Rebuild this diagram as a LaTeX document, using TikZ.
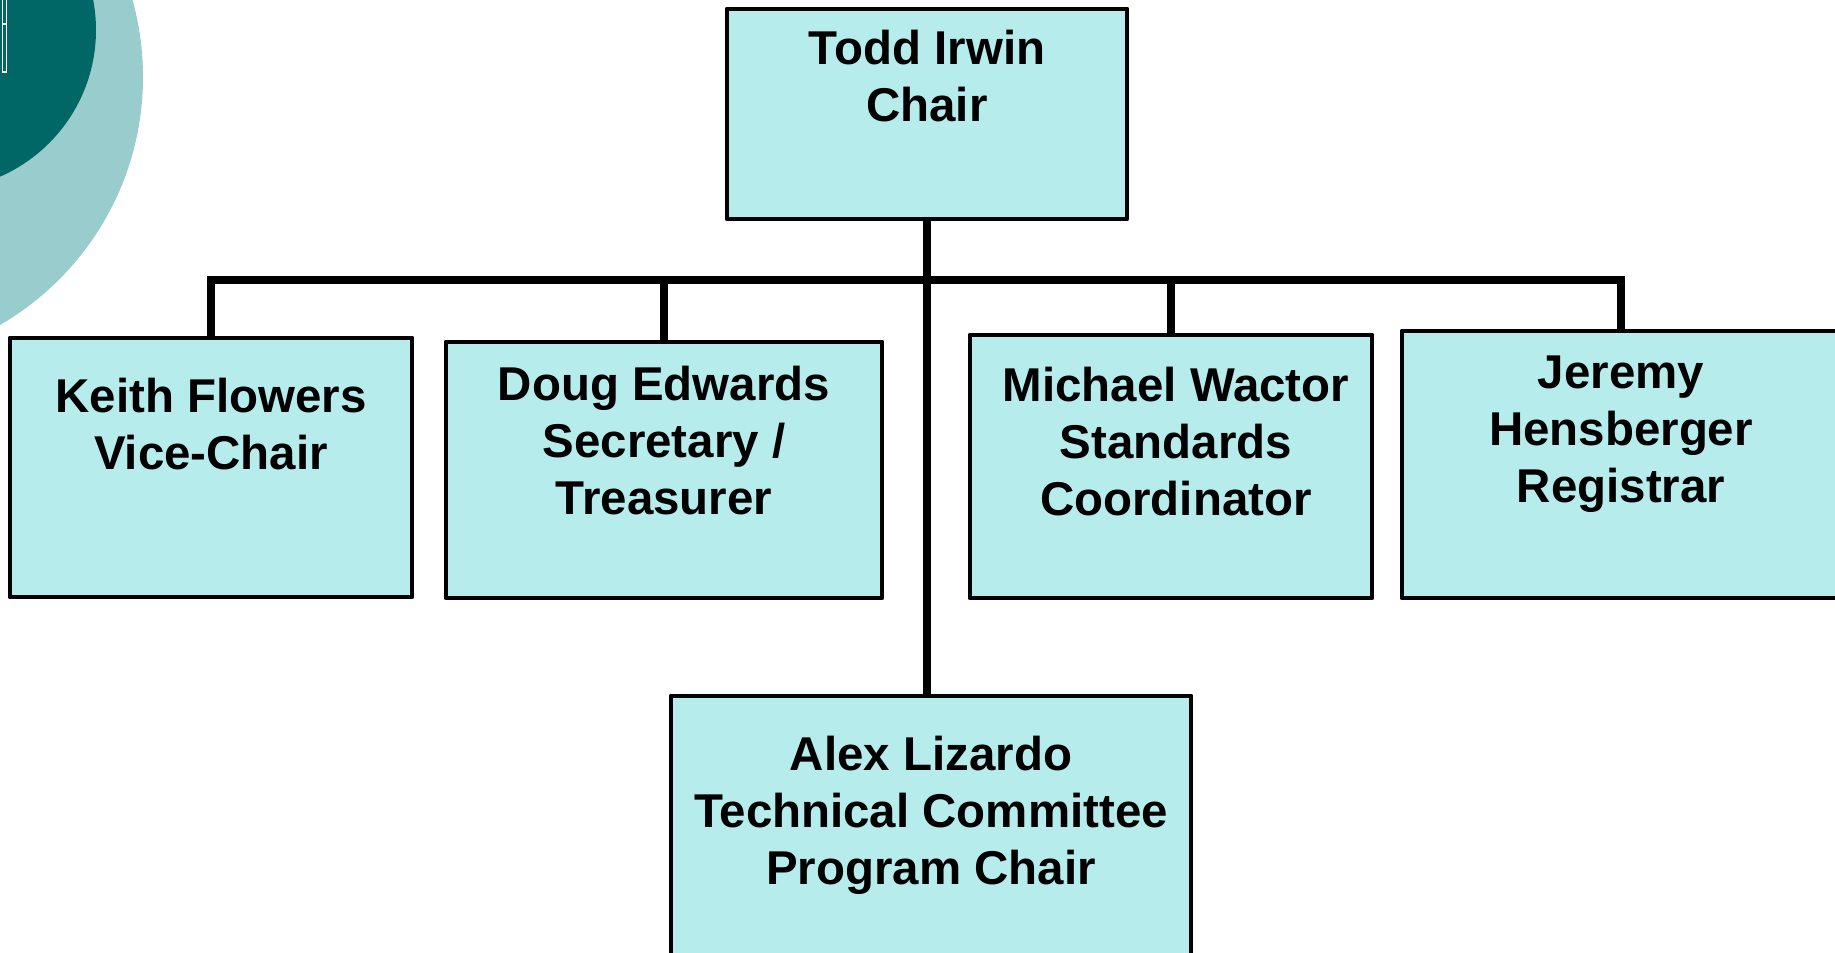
\documentclass[tikz,border=0pt]{standalone}
\usepackage{fontspec}
\setmainfont{Liberation Sans}
\usepackage{xcolor}
\usetikzlibrary{positioning,calc}
\definecolor{boxfill}{HTML}{B6ECEC}
\definecolor{tealdark}{HTML}{006666}
\definecolor{teallight}{HTML}{99CCCC}

\begin{document}
\begin{tikzpicture}[
    officer/.style={draw=black, fill=boxfill, line width=1.4pt, line join=round, inner sep=0pt},
    roletext/.style={anchor=north, align=center, inner sep=0pt, font=\fontsize{13.5}{16.2}\selectfont\bfseries},
    link/.style={line width=2.1pt}]
    \useasboundingbox (0,0) rectangle (18.35,9.53);

    % corner decoration
    \fill[teallight] (-1.435,8.76) circle (2.865);
    \fill[tealdark] (-0.64,9.23) circle (1.6);
    \draw[white, line width=0.5pt] (0.025,8.81) rectangle (0.065,9.6) (0.025,9.29) -- (0.065,9.29);

    \node[officer, minimum width=4.0cm, minimum height=2.1cm] (chair) at (9.27,8.39) {};
    \node[roletext, below=0.23cm of chair.north] (chairtxt) {Todd Irwin\\Chair};

    \node[officer, minimum width=4.02cm, minimum height=2.59cm] (keith) at (2.11,4.855) {};
    \node[roletext, below=0.42cm of keith.north] (keithtxt) {Keith Flowers\\Vice-Chair};

    \node[officer, minimum width=4.36cm, minimum height=2.56cm] (doug) at (6.64,4.83) {};
    \node[roletext, below=0.26cm of doug.north] (dougtxt) {Doug Edwards\\Secretary /\\Treasurer};

    \node[officer, minimum width=4.02cm, minimum height=2.63cm] (michael) at (11.71,4.865) {};
    \node[roletext, below=0.34cm of michael.north, xshift=0.05cm] (michaeltxt) {Michael Wactor\\Standards\\Coordinator};

    \node[officer, minimum width=4.38cm, minimum height=2.67cm] (jeremy) at (16.21,4.885) {};
    \node[roletext, below=0.265cm of jeremy.north] (jeremytxt) {Jeremy\\Hensberger\\Registrar};

    \node[officer, minimum width=5.2cm, minimum height=2.7cm] (alex) at (9.31,1.22) {};
    \node[roletext, below=0.42cm of alex.north] (alextxt) {Alex Lizardo\\Technical Committee\\Program Chair};

    % connectors
    \coordinate (bus) at (9.27,6.73);
    \draw[link] (chair.south) -- (chair.south |- alex.north);
    \draw[link] (keith.north) |- (bus) -| (jeremy.north);
    \draw[link] (doug.north) -- (doug.north |- bus);
    \draw[link] (michael.north) -- (michael.north |- bus);
\end{tikzpicture}
\end{document}
